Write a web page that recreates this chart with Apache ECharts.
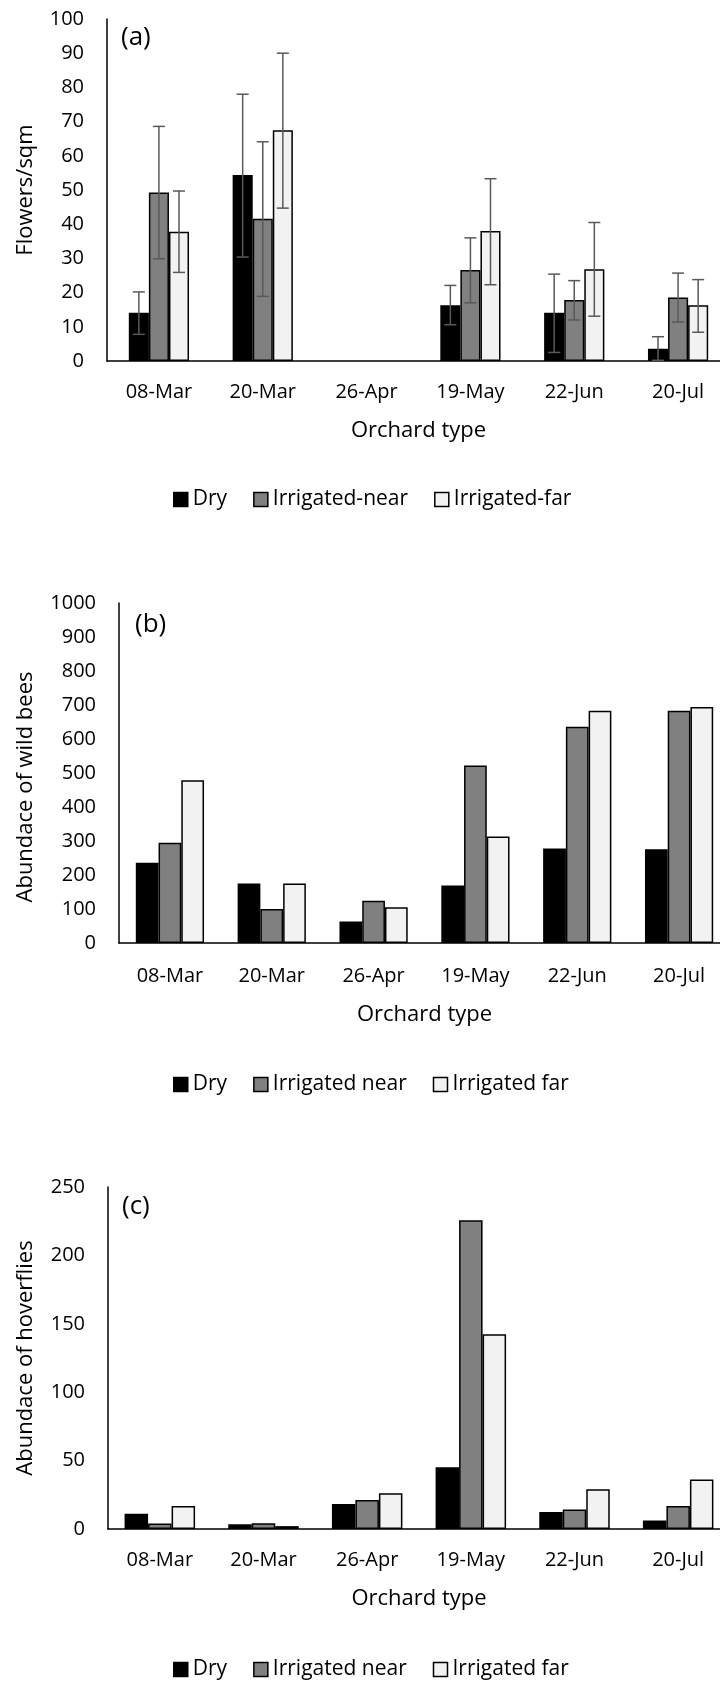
<!DOCTYPE html>
<html>
<head>
<meta charset="utf-8">
<script src="https://cdn.jsdelivr.net/npm/echarts@6/dist/echarts.min.js"></script>
<style>
  html, body { margin: 0; padding: 0; background: #fff; overflow: hidden; }
  #chart { width: 730px; height: 1684px; }
</style>
</head>
<body>
<div id="chart"></div>
<script>
// sampling dates
const dates = ['08-Mar', '20-Mar', '26-Apr', '19-May', '22-Jun', '20-Jul']

// (a) flowers per sqm, with error bar ends (low, high)
const flowersDry = [14.1, 54.4, null, 16.3, 14.1, 3.6]
const flowersNear = [49.3, 41.6, null, 26.6, 17.8, 18.6]
const flowersFar = [37.8, 67.5, null, 38.0, 26.8, 16.3]
const flowersDryErr = [[7.8, 20.2], [30.4, 78.0], null, [10.6, 22.1], [2.5, 25.4], [0.2, 7.1]]
const flowersNearErr = [[29.9, 68.6], [18.9, 64.1], null, [17.0, 36.0], [12.0, 23.5], [11.4, 25.7]]
const flowersFarErr = [[25.9, 49.7], [44.7, 90.0], null, [22.3, 53.3], [13.1, 40.5], [8.4, 23.8]]

// (b) wild bees
const beesDry = [236, 175, 63, 169, 278, 276]
const beesNear = [295, 100, 124, 522, 636, 683]
const beesFar = [479, 175, 105, 313, 683, 694]

// (c) hoverflies
const hoverDry = [11.1, 3.4, 18.3, 45.2, 12.4, 6.3]
const hoverNear = [4.0, 4.2, 21.2, 225.7, 14.3, 16.9]
const hoverFar = [16.9, 2.1, 26.2, 142.3, 29.1, 36.2]

const FONT = 'Open Sans'
const COLORS = ['#000000', '#808080', '#f2f2f2']
const GAP_A = 0.42

const chart = echarts.init(document.getElementById('chart'), null, { renderer: 'canvas' })

function xAxis(gridIndex, labelMargin, nameGap) {
  return {
    type: 'category',
    gridIndex,
    data: dates,
    name: 'Orchard type',
    nameLocation: 'middle',
    nameGap,
    nameTextStyle: { fontFamily: FONT, fontSize: 22, color: '#000' },
    axisLine: { lineStyle: { color: '#000', width: 1.5 } },
    axisTick: { show: false },
    axisLabel: { fontFamily: FONT, fontSize: 20, color: '#000', margin: labelMargin, interval: 0 },
  }
}

function yAxis(gridIndex, name, max, interval, nameGap, extra) {
  return {
    type: 'value',
    gridIndex,
    min: 0,
    max,
    interval,
    name,
    nameLocation: 'middle',
    nameGap,
    nameTextStyle: Object.assign({ fontFamily: FONT, fontSize: 22, color: '#000' }, extra || {}),
    axisLine: { show: true, lineStyle: { color: '#000', width: 1.5 } },
    axisTick: { show: false },
    splitLine: { show: false },
    axisLabel: { fontFamily: FONT, fontSize: 20, color: '#000', margin: 23, formatter: (v) => String(v) },
  }
}

function bars(name, data, idx, color, gap) {
  return {
    type: 'bar',
    name,
    data,
    xAxisIndex: idx,
    yAxisIndex: idx,
    barGap: '0%',
    barCategoryGap: gap,
    itemStyle: { color, borderColor: '#000', borderWidth: 1.5 },
  }
}

// error bars for panel (a), offset to sit on the k-th bar of the group
function errors(ranges, k) {
  return {
    type: 'custom',
    xAxisIndex: 0,
    yAxisIndex: 0,
    z: 5,
    data: ranges.map((r, i) => (r ? [i, r[0], r[1]] : [i, null, null])),
    renderItem(params, api) {
      const lo = api.value(1)
      const hi = api.value(2)
      if (lo == null || isNaN(lo)) return null
      const i = api.value(0)
      const band = api.size([1, 0])[0]
      const bw = (band * (1 - GAP_A)) / 3
      const x = api.coord([i, 0])[0] + (k - 1) * bw
      const yLo = api.coord([i, lo])[1]
      const yHi = api.coord([i, hi])[1]
      const style = { stroke: '#595959', lineWidth: 1.5 }
      return {
        type: 'group',
        children: [
          { type: 'line', shape: { x1: x, y1: yLo, x2: x, y2: yHi }, style },
          { type: 'line', shape: { x1: x - 6, y1: yLo, x2: x + 6, y2: yLo }, style },
          { type: 'line', shape: { x1: x - 6, y1: yHi, x2: x + 6, y2: yHi }, style },
        ],
      }
    },
  }
}

function legend(names, top) {
  return {
    data: names,
    left: 173,
    top,
    padding: 0,
    icon: 'rect',
    itemWidth: 14,
    itemHeight: 14,
    itemGap: 26,
    itemStyle: { borderColor: '#000', borderWidth: 1.5 },
    textStyle: { fontFamily: FONT, fontSize: 21, color: '#000' },
  }
}

function panelTitle(text, left, top) {
  return { text, left, top, padding: 0, textStyle: { fontFamily: FONT, fontSize: 26, fontWeight: 'normal', color: '#000' } }
}

chart.setOption({
  animation: false,
  color: COLORS,
  title: [panelTitle('(a)', 121, 25), panelTitle('(b)', 135, 612), panelTitle('(c)', 122, 1194)],
  grid: [
    { left: 107, right: 0, top: 19, height: 342 },
    { left: 119, right: 0, top: 603, height: 340 },
    { left: 108, right: 0, top: 1187, height: 342 },
  ],
  xAxis: [xAxis(0, 21, 59), xAxis(1, 23, 61), xAxis(2, 21, 59)],
  yAxis: [
    yAxis(0, 'Flowers/sqm', 100, 10, 70),
    yAxis(1, 'Abundace of wild bees', 1000, 100, 82, { padding: [0, 28, 0, 0] }),
    yAxis(2, 'Abundace of hoverflies', 250, 50, 71),
  ],
  legend: [
    legend(['Dry', 'Irrigated-near', 'Irrigated-far'], 489),
    legend(['Dry', 'Irrigated near', 'Irrigated far'], 1074),
    legend(['Dry', 'Irrigated near', 'Irrigated far'], 1659),
  ],
  series: [
    bars('Dry', flowersDry, 0, COLORS[0], '42%'),
    bars('Irrigated-near', flowersNear, 0, COLORS[1], '42%'),
    bars('Irrigated-far', flowersFar, 0, COLORS[2], '42%'),
    errors(flowersDryErr, 0),
    errors(flowersNearErr, 1),
    errors(flowersFarErr, 2),
    bars('Dry', beesDry, 1, COLORS[0], '33%'),
    bars('Irrigated near', beesNear, 1, COLORS[1], '33%'),
    bars('Irrigated far', beesFar, 1, COLORS[2], '33%'),
    bars('Dry', hoverDry, 2, COLORS[0], '32%'),
    bars('Irrigated near', hoverNear, 2, COLORS[1], '32%'),
    bars('Irrigated far', hoverFar, 2, COLORS[2], '32%'),
  ],
})
</script>
</body>
</html>
